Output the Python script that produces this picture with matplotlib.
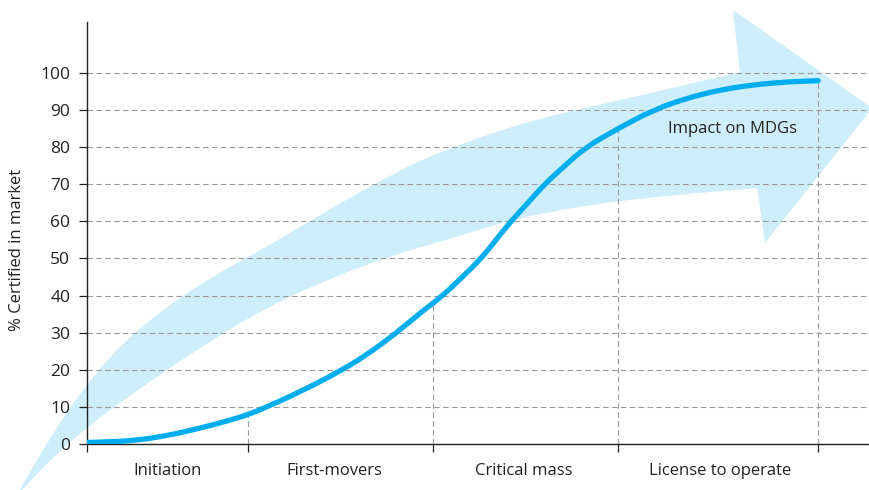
import numpy as np
import matplotlib.pyplot as plt
from matplotlib.path import Path
from matplotlib.patches import PathPatch

# ── Dados ─────────────────────────────────────────────────────────────────────
# eixo x: tempo relativo (0–100), fases separadas pelas fronteiras abaixo
stage_edges  = [0.0, 20.6, 44.2, 67.9, 93.5]
stage_names  = ['Initiation', 'First-movers', 'Critical mass', 'License to operate']
stage_centers = [10.3, 31.6, 55.9, 80.9]

curve_x = np.array([0.0, 2.9, 5.9, 10.2, 14.5, 17.6, 20.6, 23.0, 27.2, 32.7,
                    36.1, 39.6, 42.6, 45.5, 48.0, 50.4, 52.3, 54.2, 56.4, 58.5,
                    61.1, 63.8, 67.9, 72.4, 76.7, 80.9, 85.2, 89.5, 93.5])
curve_y = np.array([0.4, 0.6, 0.9, 2.2, 4.3, 6.0, 7.9, 10.0, 14.0, 20.0,
                    24.5, 30.0, 35.3, 40.0, 45.0, 50.0, 55.0, 60.0, 65.0, 70.0,
                    75.0, 80.0, 85.0, 90.0, 93.2, 95.4, 96.8, 97.6, 97.9])

y_ticks = list(range(0, 101, 10))

# contorno da seta de fundo (cauda -> cabeça pelo bordo superior, volta pelo inferior)
arrow_upper_x = [-8.6, -4.7, 0.0, 5.9, 14.5, 23.0, 31.5, 40.0, 45.1, 55.4, 68.2, 83.5]
arrow_upper_y = [-12.4, 1.9, 16.4, 30.2, 43.4, 53.1, 63.9, 73.8, 78.7, 86.5, 92.7, 100.2]
arrow_head_x  = [82.6, 100.4, 86.7]
arrow_head_y  = [117.0, 90.5, 54.2]
arrow_lower_x = [85.7, 68.2, 55.4, 45.1, 40.0, 31.5, 23.0, 14.5, 5.9, 0.0, -4.7, -8.3]
arrow_lower_y = [69.0, 65.8, 61.2, 54.4, 51.5, 45.0, 36.9, 26.1, 13.7, 4.6, -4.3, -12.4]


def smooth_path(xs, ys, start=True):
    """Vértices/códigos de um traçado suave (Bézier quadrática pelos pontos médios)."""
    p = np.column_stack([xs, ys])
    verts, codes = [p[0]], [Path.MOVETO if start else Path.LINETO]
    verts.append((p[0] + p[1]) / 2)
    codes.append(Path.LINETO)
    for i in range(1, len(p) - 1):
        verts += [p[i], (p[i] + p[i + 1]) / 2]
        codes += [Path.CURVE3, Path.CURVE3]
    verts.append(p[-1])
    codes.append(Path.LINETO)
    return verts, codes


# ── Estilo ────────────────────────────────────────────────────────────────────
plt.rcParams['font.family'] = ['Open Sans', 'DejaVu Sans']
TXT   = '#222222'
CURVE = '#00aeef'
ARROW = '#cdeefa'
GRID  = '#9a9a9a'

fig = plt.figure(figsize=(8.69, 4.90), dpi=100)
ax = fig.add_axes([87 / 869, 46 / 490, 782 / 869, 422.3 / 490])
ax.set_xlim(0, 100)
ax.set_ylim(0, 113.8)
ax.set_facecolor('none')

# Seta larga ao fundo
v_up, c_up = smooth_path(arrow_upper_x, arrow_upper_y, start=True)
v_lo, c_lo = smooth_path(arrow_lower_x, arrow_lower_y, start=False)
v_head = list(zip(arrow_head_x, arrow_head_y))
verts = v_up + v_head + v_lo + [v_up[0]]
codes = c_up + [Path.LINETO] * len(v_head) + c_lo + [Path.CLOSEPOLY]
ax.add_patch(PathPatch(Path(verts, codes), facecolor=ARROW, edgecolor='none',
                       clip_on=False, zorder=0.2))

# Linhas verticais até à curva
drop_h = np.interp(stage_edges[1:], curve_x, curve_y)
ax.vlines(stage_edges[1:], 0, drop_h, colors=GRID, lw=0.8,
          linestyles=(0, (5, 3)), zorder=1)

# Curva de adopção
v_c, c_c = smooth_path(curve_x, curve_y)
ax.add_patch(PathPatch(Path(v_c, c_c), facecolor='none', edgecolor=CURVE,
                       lw=3.8, capstyle='round', joinstyle='round', zorder=3))

ax.text(82.6, 84.9, 'Impact on MDGs', fontsize=12, color=TXT,
        ha='center', va='center', zorder=4)

# ── Eixos ─────────────────────────────────────────────────────────────────────
for s in ['top', 'right']:
    ax.spines[s].set_visible(False)
for s in ['left', 'bottom']:
    ax.spines[s].set_color(TXT)
    ax.spines[s].set_linewidth(1.0)

ax.set_yticks(y_ticks)
ax.set_yticklabels([str(v) for v in y_ticks])
ax.tick_params(axis='y', direction='out', length=6, width=0.9, color=TXT,
               labelcolor=TXT, labelsize=12.5, pad=6)

ax.set_xticks(stage_edges)
ax.set_xticklabels([''] * len(stage_edges))
ax.tick_params(axis='x', which='major', direction='out', length=5.5, width=0.9,
               color=TXT)
ax.set_xticks(stage_centers, minor=True)
ax.set_xticklabels(stage_names, minor=True)
ax.tick_params(axis='x', which='minor', length=0, pad=14, labelsize=12,
               labelcolor=TXT)

ax.set_axisbelow(True)
ax.grid(axis='y', color=GRID, lw=0.8, linestyle=(0, (5, 3)))
ax.grid(axis='x', visible=False)

fig.text(17 / 869, 1 - 250 / 490, '% Certified in market', rotation=90,
         fontsize=12, color=TXT, ha='center', va='center')

fig.savefig('out.png', dpi=100)
